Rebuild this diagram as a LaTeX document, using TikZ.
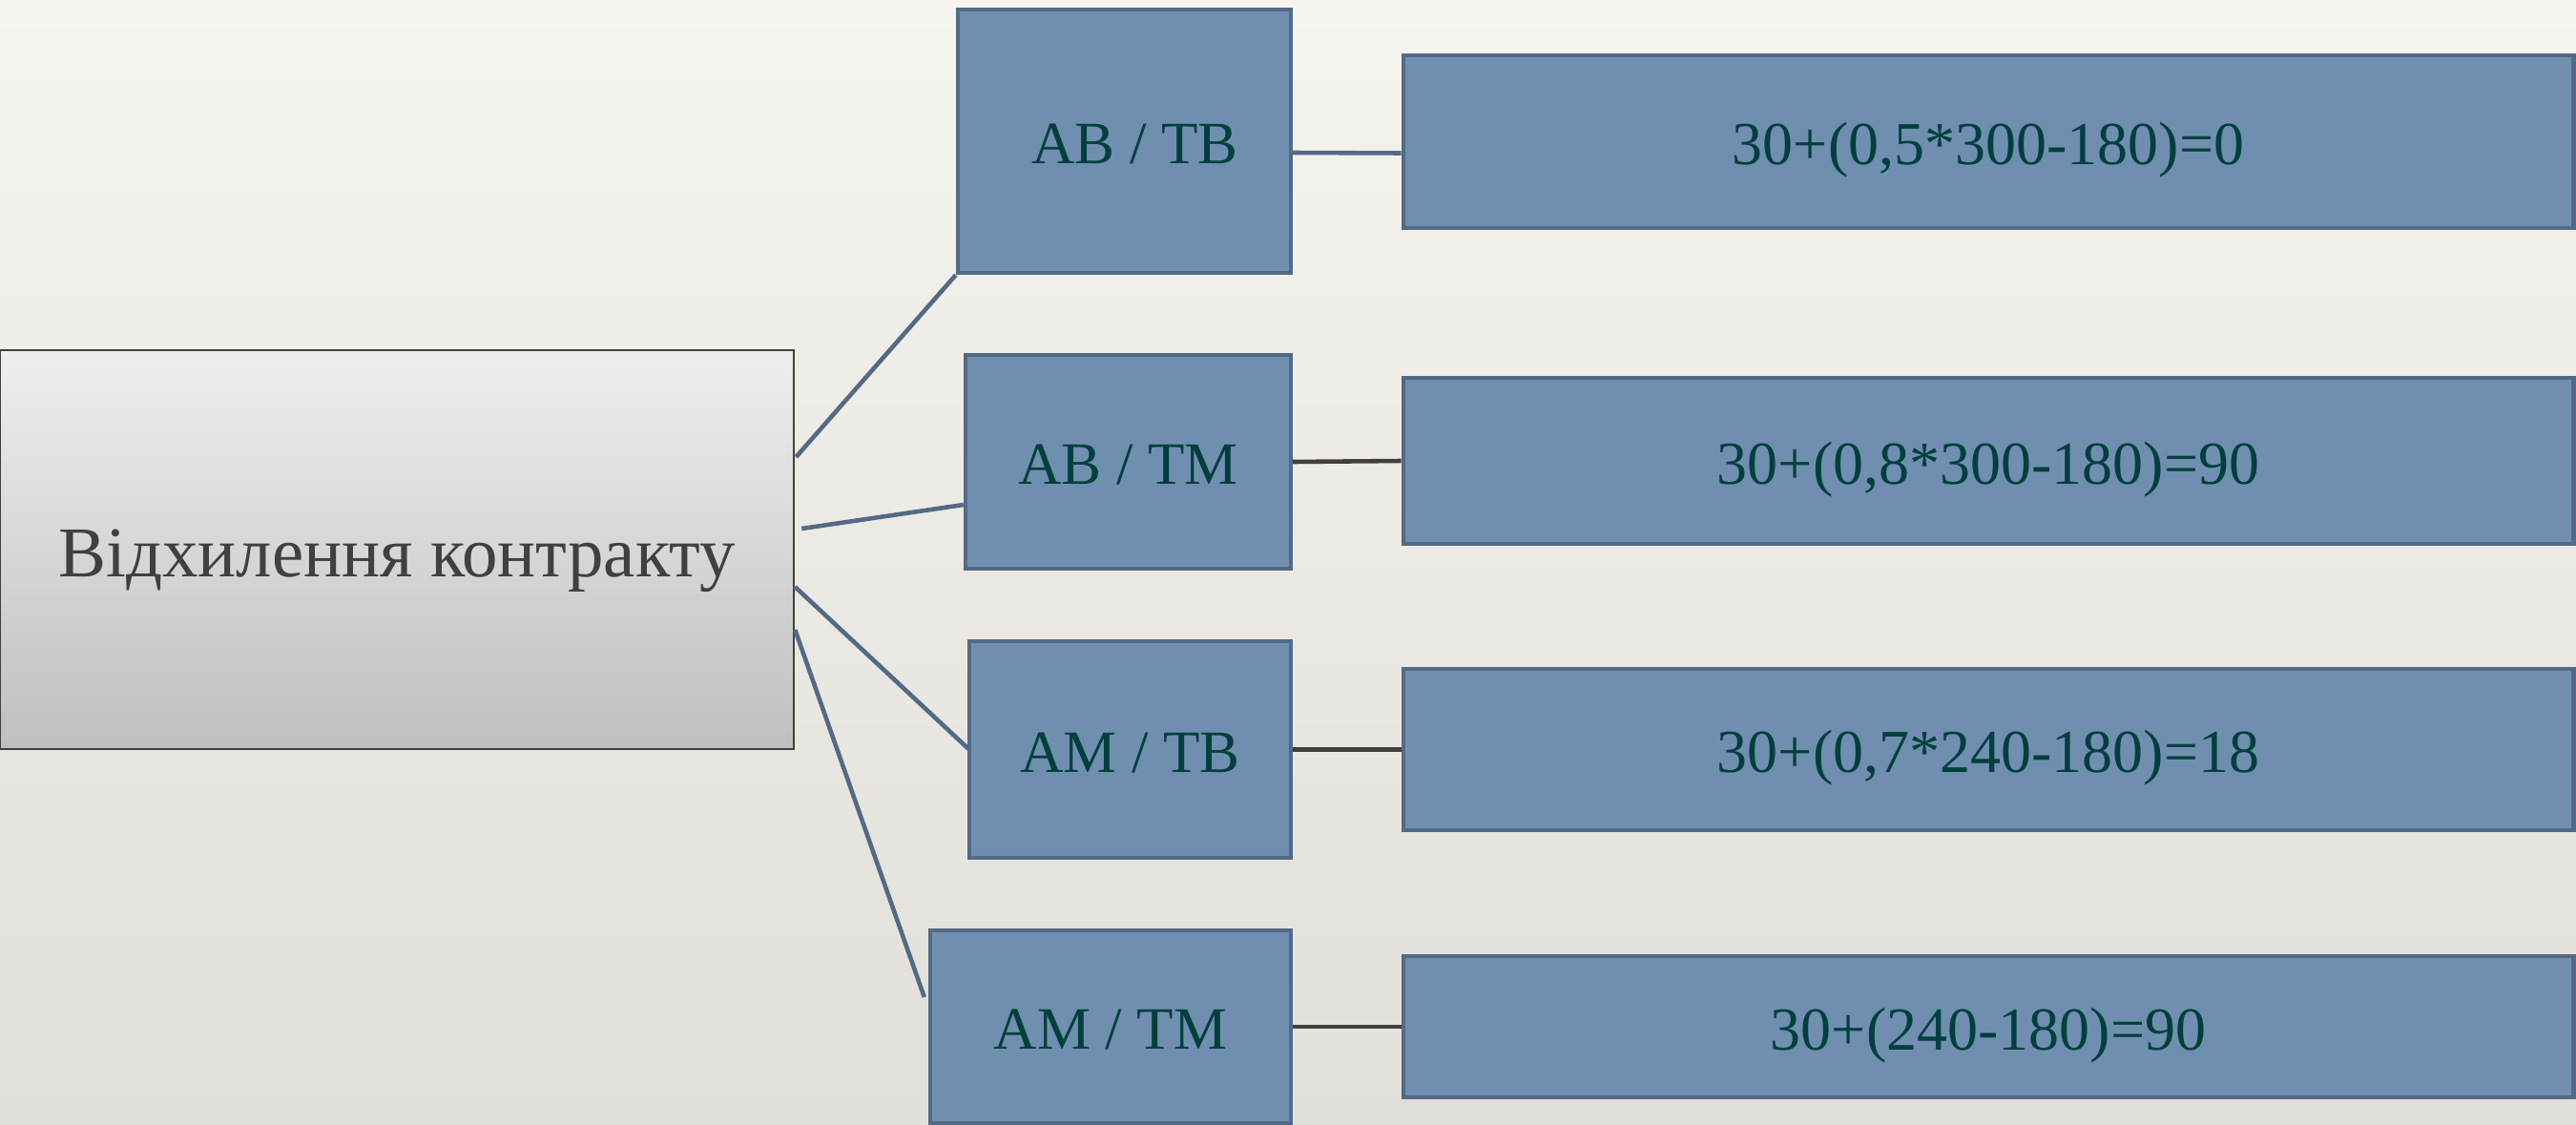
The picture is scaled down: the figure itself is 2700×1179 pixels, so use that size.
\documentclass[tikz,border=0pt]{standalone}
\usepackage{fontspec}
\setmainfont{Liberation Serif}
\usetikzlibrary{shadings,calc}
\definecolor{boxfill}{HTML}{708FB0}
\definecolor{boxdraw}{HTML}{536A86}
\definecolor{txtteal}{HTML}{00403C}
\definecolor{txtgrey}{HTML}{404040}
\definecolor{linkblue}{HTML}{536A86}
\definecolor{linkgrey}{HTML}{404040}
\definecolor{bgtop}{HTML}{F6F4EF}
\definecolor{bgbottom}{HTML}{E2DFDA}
\newcommand{\slsh}{\hspace{0.25em}/\hspace{0.25em}}
\begin{document}
\begin{tikzpicture}[x=0.01cm,y=-0.01cm,
  bluebox/.style={draw=boxdraw, fill=boxfill, line width=1.2pt, inner sep=0pt, text=txtteal, text depth=0pt},
  midbox/.style={bluebox, text height=13.6pt, font=\fontsize{17.9}{21}\selectfont},
  resbox/.style={bluebox, text height=13.8pt, minimum width=12.26cm, font=\fontsize{18.2}{22}\selectfont},
  rootbox/.style={draw=txtgrey, line width=0.6pt, top color=gray!13, bottom color=gray!50, inner sep=0pt, text=txtgrey, text height=16.2pt, text depth=0pt, font=\fontsize{21.3}{25}\selectfont},
  bluelink/.style={draw=linkblue, line width=1.3pt},
  greylink/.style={draw=linkgrey, line width=1.3pt}
]
\shade[top color=bgtop, bottom color=bgbottom] (0,0) rectangle (2700,1179);
\useasboundingbox (0,0) rectangle (2700,1179);

\node[rootbox, minimum width=8.32cm, minimum height=4.18cm] (L) at (416,576) {Відхилення контракту};

\node[midbox, minimum width=3.49cm, minimum height=2.76cm] (M1) at (1178.5,148) {\hspace{0.35em}AB\slsh TB};
\node[midbox, minimum width=3.41cm, minimum height=2.24cm] (M2) at (1182.5,484) {AB\slsh TM};
\node[midbox, minimum width=3.37cm, minimum height=2.27cm] (M3) at (1184.5,785.5) {AM\slsh TB};
\node[midbox, minimum width=3.78cm, minimum height=2.02cm] (M4) at (1164,1076) {AM\slsh TM};

\node[resbox, minimum height=1.81cm] (R1) at (2084,148.5) {30+(0,5*300-180)=0};
\node[resbox, minimum height=1.74cm] (R2) at (2084,483) {30+(0,8*300-180)=90};
\node[resbox, minimum height=1.69cm] (R3) at (2084,785.5) {30+(0,7*240-180)=18};
\node[resbox, minimum height=1.48cm] (R4) at (2084,1076) {30+(240-180)=90};

\draw[bluelink] ($(L.east)+(1,-97)$) -- (M1.south west);
\draw[bluelink] ($(L.east)+(7,-22)$) -- ($(M2.west)+(0,45)$);
\draw[bluelink] ($(L.east)+(0,39)$) -- ($(M3.west)+(2,0)$);
\draw[bluelink] ($(L.east)+(0,84)$) -- ($(M4.west)+(-4,-31)$);

\draw[bluelink] ($(M1.east)+(-2,12)$) -- ($(R1.west)+(0,12)$);
\draw[greylink] (M2.east) -- (R2.west);
\draw[greylink] (M3.east) -- (R3.west);
\draw[greylink] (M4.east) -- (R4.west);
\end{tikzpicture}
\end{document}
